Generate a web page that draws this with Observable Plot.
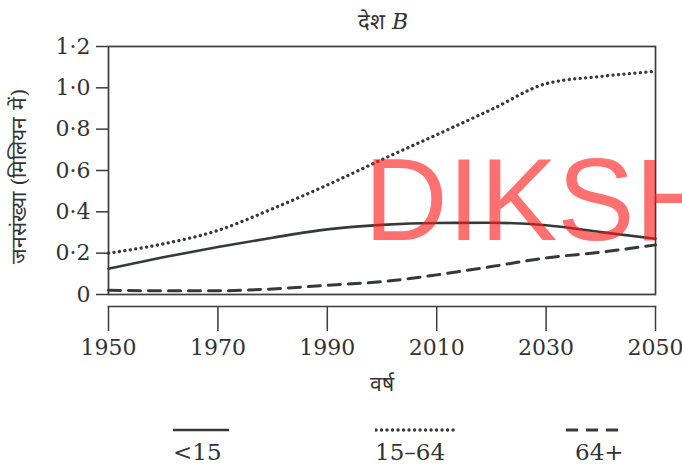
<!DOCTYPE html>
<html><head><meta charset="utf-8">
<script src="https://cdn.jsdelivr.net/npm/d3@7"></script>
<script src="https://cdn.jsdelivr.net/npm/@observablehq/plot@0.6"></script>
<style>
html,body{margin:0;padding:0;background:#fff;overflow:hidden;width:682px;height:468px}
#wrap{position:relative;width:682px;height:468px;overflow:hidden}
#chart{position:absolute;left:0;top:0}
#title{position:absolute;top:5px;left:283px;width:200px;text-align:center;font:22px "DejaVu Serif",serif;color:#333}
#chart svg text{fill:#333}
#chart g[aria-label="x-axis tick label"]{font:22px "DejaVu Serif",serif !important}
#chart g[aria-label="y-axis tick label"]{font:22px "DejaVu Serif",serif !important}
#chart g[aria-label="x-axis label"]{font:21px "DejaVu Serif",serif !important}
#chart g[aria-label="y-axis label"]{font:21px "DejaVu Serif",serif !important}
.leg{position:absolute;top:424px}
.leg svg{display:block}
.leg .lab{position:absolute;top:15px;font:23px "DejaVu Serif",serif;color:#333;white-space:nowrap}
#wm{position:absolute;left:364px;top:142px;font:116px/1 "Liberation Sans",Arial,sans-serif;color:#ff1a1a;opacity:.62;white-space:nowrap;pointer-events:none}
</style></head>
<body><div id="wrap"><div id="chart"></div><div id="title">देश <i>B</i></div><div id="legend"></div><div id="wm">DIKSHA</div></div>
<script>
const years = [1950,1960,1970,1980,1990,2000,2010,2020,2030,2040,2050];
const under15 = [0.125,0.18,0.23,0.275,0.315,0.337,0.346,0.347,0.335,0.302,0.27];
const age15to64 = [0.20,0.245,0.31,0.415,0.53,0.653,0.773,0.895,1.02,1.055,1.08];
const age64plus = [0.02,0.018,0.018,0.027,0.045,0.062,0.095,0.135,0.177,0.205,0.24];
const seriesNames = ["<15","15–64","64+"];
const xTicks = [1950,1970,1990,2010,2030,2050];
const yTicks = [0,0.2,0.4,0.6,0.8,1.0,1.2];
const xLabel = "वर्ष";
const yLabel = "जनसंख्या (मिलियन में)";

const seriesValues = [under15, age15to64, age64plus];
const rows = seriesNames.flatMap((s,i)=>years.map((yr,j)=>({series:s, year:yr, value:seriesValues[i][j]})));
const styles = {
  "<15": {stroke:"#353a37", strokeWidth:2.6},
  "15–64": {stroke:"#353a37", strokeWidth:3.3, strokeDasharray:"0.1,5.4", strokeLinecap:"round"},
  "64+": {stroke:"#353a37", strokeWidth:3, strokeDasharray:"12,8"}
};
const fmt = d => d === 0 ? "0" : d.toFixed(1).replace(".", "·");

const chart = Plot.plot({
  width:682, height:400,
  marginLeft:108, marginRight:27, marginTop:46, marginBottom:94,
  insetBottom:12,
  x:{domain:[1950,2050]},
  y:{domain:[0,1.2]},
  marks:[
    Plot.frame({insetBottom:12, stroke:"#3c3c3c", strokeWidth:1.7}),
    Plot.frame({anchor:"bottom", stroke:"#3c3c3c", strokeWidth:1.7}),
    Plot.axisX({ticks:xTicks, tickSize:25, tickPadding:8, tickFormat:d=>String(d), stroke:"#3c3c3c", strokeWidth:1.5,
      label:xLabel, labelAnchor:"center", labelArrow:"none", labelOffset:84}),
    Plot.axisY({ticks:yTicks, tickSize:12, tickPadding:6, tickFormat:fmt, stroke:"#3c3c3c", strokeWidth:1.5,
      label:yLabel, labelAnchor:"center", labelArrow:"none", labelOffset:97}),
    ...seriesNames.map(s => Plot.lineY(rows.filter(r=>r.series===s), {x:"year", y:"value", curve:"monotone-x", ...styles[s]}))
  ]
});
document.getElementById("chart").appendChild(chart);

const legendPos = [{left:172,w:58,lab:1},{left:375,w:82,lab:0},{left:565,w:60,lab:10}];
const leg = document.getElementById("legend");
seriesNames.forEach((s,i)=>{
  const p = legendPos[i], st = styles[s];
  const d = document.createElement("div");
  d.className = "leg"; d.style.left = p.left + "px";
  d.innerHTML = `<svg width="${p.w}" height="12"><line x1="1" x2="${p.w-1}" y1="6" y2="6" stroke="${st.stroke}" stroke-width="${st.strokeWidth}" ${st.strokeDasharray?`stroke-dasharray="${st.strokeDasharray}"`:""} ${st.strokeLinecap?`stroke-linecap="${st.strokeLinecap}"`:""}/></svg><div class="lab" style="left:${p.lab}px">${s.replace("<","&lt;")}</div>`;
  leg.appendChild(d);
});
</script></body></html>
